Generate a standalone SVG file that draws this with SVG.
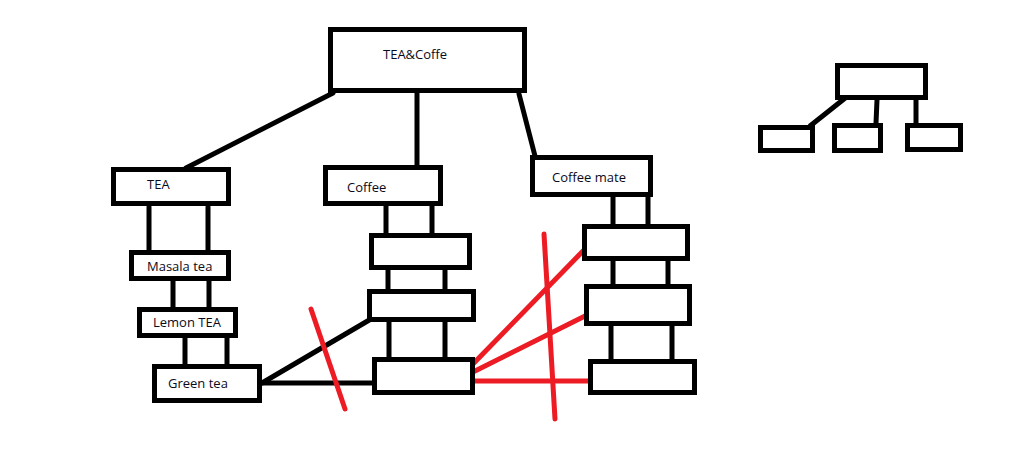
<svg xmlns="http://www.w3.org/2000/svg" width="1021" height="460" viewBox="0 0 1021 460">
<style>
.box{fill:#fff;stroke:#000;stroke-width:5}
.ln{stroke:#000;stroke-width:5;fill:none;stroke-linecap:round}
.red{stroke:#ed1c24;stroke-width:5;fill:none;stroke-linecap:round}
.t{font-family:"Open Sans","Noto Sans",sans-serif;font-size:13px;fill:#0a0a1a}
</style>
<rect width="1021" height="460" fill="#fff"/>
<g id="connectors">
<line class="ln" x1="333" y1="93" x2="186" y2="168"/>
<line class="ln" x1="417" y1="93" x2="417" y2="165"/>
<line class="ln" x1="519" y1="94" x2="535" y2="156"/>
<line class="ln" x1="149" y1="207" x2="149" y2="250"/>
<line class="ln" x1="208" y1="207" x2="208" y2="250"/>
<line class="ln" x1="173" y1="281" x2="173" y2="307"/>
<line class="ln" x1="209" y1="281" x2="209" y2="307"/>
<line class="ln" x1="185" y1="338" x2="185" y2="364"/>
<line class="ln" x1="227" y1="338" x2="227" y2="364"/>
<line class="ln" x1="386" y1="206" x2="386" y2="233"/>
<line class="ln" x1="432" y1="206" x2="432" y2="233"/>
<line class="ln" x1="388" y1="270" x2="388" y2="289"/>
<line class="ln" x1="445" y1="270" x2="445" y2="289"/>
<line class="ln" x1="389" y1="322" x2="389" y2="357"/>
<line class="ln" x1="445" y1="322" x2="445" y2="357"/>
<line class="ln" x1="613" y1="197" x2="613" y2="224"/>
<line class="ln" x1="648" y1="197" x2="648" y2="224"/>
<line class="ln" x1="613" y1="261" x2="613" y2="284"/>
<line class="ln" x1="668" y1="261" x2="668" y2="284"/>
<line class="ln" x1="611" y1="326" x2="611" y2="359"/>
<line class="ln" x1="672" y1="326" x2="672" y2="359"/>
<line class="ln" x1="262" y1="383" x2="371" y2="319"/>
<line class="ln" x1="262" y1="383" x2="378" y2="383"/>
<line class="ln" x1="849" y1="95" x2="810" y2="126"/>
<line class="ln" x1="877" y1="100" x2="876" y2="123"/>
<line class="ln" x1="916" y1="100" x2="916" y2="123"/>
<line class="red" x1="311" y1="309" x2="345" y2="409"/>
<line class="red" x1="544" y1="234" x2="555" y2="419"/>
<line class="red" x1="472" y1="365" x2="583" y2="251"/>
<line class="red" x1="473" y1="372" x2="587" y2="315"/>
<line class="red" x1="473" y1="381" x2="595" y2="381"/>
</g>
<g id="n-top"><rect class="box" x="330.5" y="29.5" width="194" height="61"/><text class="t" x="383" y="59">TEA&amp;Coffe</text></g>
<g id="n-tea"><rect class="box" x="113.5" y="169.5" width="115" height="34"/><text class="t" x="147" y="189">TEA</text></g>
<g id="n-masala"><rect class="box" x="131.5" y="252.5" width="97" height="26"/><text class="t" x="147" y="271">Masala tea</text></g>
<g id="n-lemon"><rect class="box" x="139.5" y="309.5" width="96" height="26"/><text class="t" x="153" y="327">Lemon TEA</text></g>
<g id="n-green"><rect class="box" x="154.5" y="366.5" width="105" height="34"/><text class="t" x="168" y="388">Green tea</text></g>
<g id="n-coffee"><rect class="box" x="325.5" y="167.5" width="115" height="36"/><text class="t" x="347" y="192">Coffee</text></g>
<g id="n-c2"><rect class="box" x="371.5" y="235.5" width="98" height="32"/></g>
<g id="n-c3"><rect class="box" x="369.5" y="291.5" width="104" height="28"/></g>
<g id="n-c4"><rect class="box" x="374.5" y="359.5" width="98" height="33"/></g>
<g id="n-mate"><rect class="box" x="532.5" y="157.5" width="118" height="37"/><text class="t" x="552" y="182">Coffee mate</text></g>
<g id="n-m2"><rect class="box" x="584.5" y="226.5" width="103" height="32"/></g>
<g id="n-m3"><rect class="box" x="586.5" y="286.5" width="103" height="37"/></g>
<g id="n-m4"><rect class="box" x="590.5" y="361.5" width="104" height="31"/></g>
<g id="n-s-top"><rect class="box" x="837.5" y="65.5" width="88" height="32"/></g>
<g id="n-s-a"><rect class="box" x="760.5" y="127.5" width="52" height="23"/></g>
<g id="n-s-b"><rect class="box" x="834.5" y="125.5" width="46" height="25"/></g>
<g id="n-s-c"><rect class="box" x="907.5" y="125.5" width="53" height="24"/></g>
</svg>
